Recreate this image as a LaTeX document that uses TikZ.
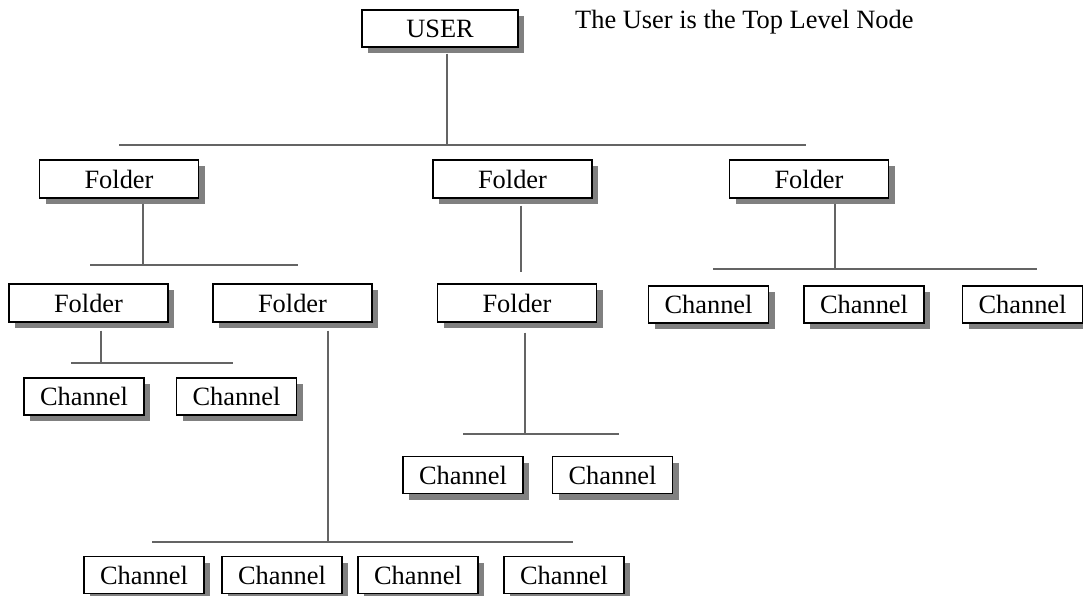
\documentclass[tikz,border=0pt]{standalone}
\usepackage{fontspec}
\setmainfont{Liberation Serif}
\usetikzlibrary{shadows,calc}
\definecolor{shadegray}{RGB}{128,128,128}
\definecolor{linkgray}{RGB}{100,100,100}
\tikzset{
  treebox/.style={draw=black, line width=1.1pt, fill=white, inner sep=0pt,
    minimum height=37pt, font=\fontsize{26.4}{30}\selectfont,
    drop shadow={shadow xshift=6pt, shadow yshift=-6pt, fill=shadegray, opacity=1}},
  userbox/.style={treebox, minimum width=156pt},
  folderbox/.style={treebox, minimum width=159pt, minimum height=38pt},
  chanbox/.style={treebox, minimum width=120pt},
  link/.style={draw=linkgray, line width=1.2pt},
}
\begin{document}
\begin{tikzpicture}[x=1pt,y=-1pt]
\useasboundingbox (0,0) rectangle (1083,596);

% top level
\node[userbox] (user) at (440,28.5) {USER};
\node[anchor=base west, inner sep=0pt, font=\fontsize{26.4}{30}\selectfont] (note) at (575,29) {The User is the Top Level Node};

% first level of folders
\node[folderbox] (f1) at (119,179) {Folder};
\node[folderbox] (f2) at (512.5,179) {Folder};
\node[folderbox] (f3) at (809,179) {Folder};

% second level
\node[folderbox] (f1a) at (88.5,303) {Folder};
\node[folderbox] (f1b) at (292.5,303) {Folder};
\node[folderbox] (f2a) at (517,303) {Folder};
\node[chanbox] (c3a) at (708.5,304.5) {Channel};
\node[chanbox] (c3b) at (864,304.5) {Channel};
\node[chanbox] (c3c) at (1022.5,304.5) {Channel};

% channels under the folders of the second level
\node[chanbox] (c1a) at (84,396.5) {Channel};
\node[chanbox] (c1b) at (236.5,396.5) {Channel};
\node[chanbox] (c2a) at (463,475) {Channel};
\node[chanbox] (c2b) at (612.5,475) {Channel};
\node[chanbox] (c4a) at (144,575) {Channel};
\node[chanbox] (c4b) at (282,575) {Channel};
\node[chanbox] (c4c) at (418,575) {Channel};
\node[chanbox] (c4d) at (564,575) {Channel};

% junction points on the bus bars
\coordinate (j0) at (447,145);
\coordinate (j1) at (143,265);
\coordinate (j2) at (521,272);
\coordinate (j3) at (835,269);
\coordinate (j1a) at (101,363);
\coordinate (j1b) at (328,542);
\coordinate (j2a) at (525,434);

% bus bar ends
\coordinate (b0l) at (119,145);   \coordinate (b0r) at (806,145);
\coordinate (b1l) at (90,265);    \coordinate (b1r) at (298,265);
\coordinate (b3l) at (713,269);   \coordinate (b3r) at (1037,269);
\coordinate (b1al) at (71,363);   \coordinate (b1ar) at (233,363);
\coordinate (b1bl) at (152,542);  \coordinate (b1br) at (573,542);
\coordinate (b2al) at (463,434);  \coordinate (b2ar) at (619,434);

% stems
\draw[link] ($(user.south -| j0)+(0,6)$) -- (j0);
\draw[link] ($(f1.south -| j1)+(0,5)$) -- (j1);
\draw[link] ($(f2.south -| j2)+(0,7)$) -- (j2);
\draw[link] ($(f3.south -| j3)+(0,5)$) -- (j3);
\draw[link] ($(f1a.south -| j1a)+(0,8)$) -- (j1a);
\draw[link] ($(f1b.south -| j1b)+(0,8)$) -- (j1b);
\draw[link] ($(f2a.south -| j2a)+(0,10)$) -- (j2a);

% bus bars
\draw[link] (b0l) -- (b0r);
\draw[link] (b1l) -- (b1r);
\draw[link] (b3l) -- (b3r);
\draw[link] (b1al) -- (b1ar);
\draw[link] (b1bl) -- (b1br);
\draw[link] (b2al) -- (b2ar);
\end{tikzpicture}
\end{document}
